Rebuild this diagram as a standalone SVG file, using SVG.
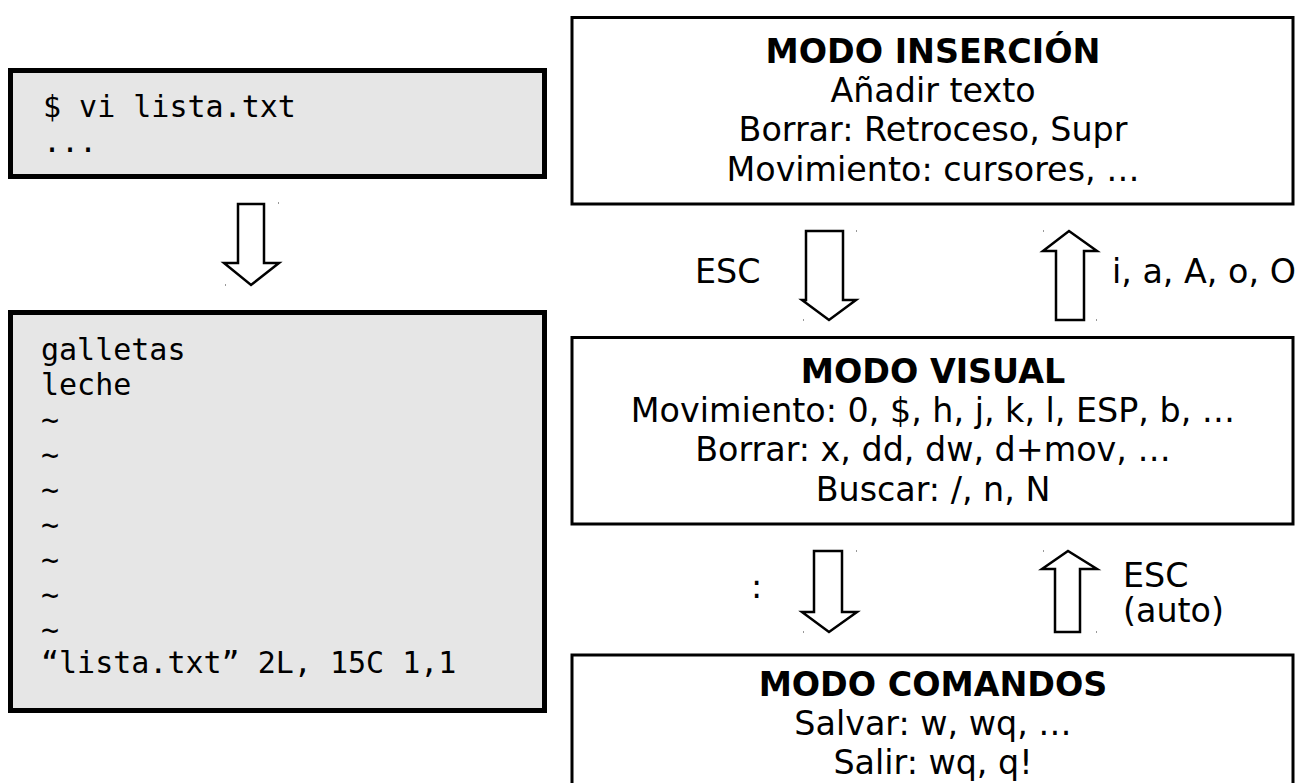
<svg xmlns="http://www.w3.org/2000/svg" width="1298" height="783" viewBox="0 0 1298 783">
<style>
.term{fill:#e6e6e6;stroke:#000;stroke-width:5}
.mode{fill:#fff;stroke:#000;stroke-width:3}
.mono{font-family:"DejaVu Sans Mono","Liberation Mono",monospace;font-size:30px;fill:#000}
.sans{font-family:"DejaVu Sans","Liberation Sans",sans-serif;font-size:33.33px;fill:#000}
.title{font-weight:bold}
.mid{text-anchor:middle}
.arrow{fill:#fff;stroke:#000;stroke-width:2.5;stroke-linejoin:miter}
.tick{fill:#999}
</style>
<rect width="1298" height="783" fill="#fff"/>
<g id="terminal-cmd">
<rect class="term" x="10.5" y="70.5" width="534" height="106"/>
<text class="mono" x="43" y="117">$ vi lista.txt</text>
<text class="mono" x="43" y="152">...</text>
</g>
<g id="terminal-vi">
<rect class="term" x="10.5" y="312.5" width="534" height="398"/>
<text class="mono" x="41" y="360">galletas</text>
<text class="mono" x="41" y="395">leche</text>
<text class="mono" x="41" y="430">~</text>
<text class="mono" x="41" y="465">~</text>
<text class="mono" x="41" y="500">~</text>
<text class="mono" x="41" y="535">~</text>
<text class="mono" x="41" y="570">~</text>
<text class="mono" x="41" y="605">~</text>
<text class="mono" x="41" y="640">~</text>
<text class="mono" x="41" y="673">“lista.txt” 2L, 15C 1,1</text>
</g>
<g id="modo-insercion">
<rect class="mode" x="572" y="17.5" width="721" height="186.5"/>
<text class="sans title mid" x="933" y="63">MODO INSERCIÓN</text>
<text class="sans mid" x="933" y="102">Añadir texto</text>
<text class="sans mid" x="933" y="141">Borrar: Retroceso, Supr</text>
<text class="sans mid" x="933" y="181">Movimiento: cursores, …</text>
</g>
<g id="modo-visual">
<rect class="mode" x="572" y="337.5" width="721" height="186.5"/>
<text class="sans title mid" x="933" y="383">MODO VISUAL</text>
<text class="sans mid" x="933" y="422">Movimiento: 0, $, h, j, k, l, ESP, b, …</text>
<text class="sans mid" x="933" y="461">Borrar: x, dd, dw, d+mov, …</text>
<text class="sans mid" x="933" y="501">Buscar: /, n, N</text>
</g>
<g id="modo-comandos">
<rect class="mode" x="572" y="655" width="721" height="140"/>
<text class="sans title mid" x="933" y="696">MODO COMANDOS</text>
<text class="sans mid" x="933" y="735">Salvar: w, wq, …</text>
<text class="sans mid" x="933" y="774">Salir: wq, q!</text>
</g>
<g id="connectors">
<polygon class="arrow" points="238,204 264,204 264,263 279,263 251,285 224,263 238,263"/>
<rect class="tick" x="278" y="202" width="1" height="2"/>
<rect class="tick" x="225" y="284" width="1" height="2"/>
<polygon class="arrow" points="806,231 843,231 843,300 856,300 829,320 802,300 806,300"/>
<rect class="tick" x="856" y="230" width="1" height="2"/>
<rect class="tick" x="803" y="319" width="1" height="2"/>
<polygon class="arrow" points="1056,320 1084,320 1084,251 1097,251 1069,231 1043,251 1056,251"/>
<rect class="tick" x="1043" y="230" width="1" height="2"/>
<rect class="tick" x="1096" y="319" width="1" height="2"/>
<polygon class="arrow" points="814,551 842,551 842,612 857,612 829,632 802,612 814,612"/>
<rect class="tick" x="856" y="550" width="1" height="2"/>
<rect class="tick" x="803" y="631" width="1" height="2"/>
<polygon class="arrow" points="1055,632 1080,632 1080,569 1097,569 1068,551 1042,569 1055,569"/>
<rect class="tick" x="1043" y="550" width="1" height="2"/>
<rect class="tick" x="1096" y="631" width="1" height="2"/>
<text class="sans" x="695" y="283">ESC</text>
<text class="sans" x="1112" y="283">i, a, A, o, O</text>
<text class="sans" x="751" y="598">:</text>
<text class="sans" x="1123" y="587">ESC</text>
<text class="sans" x="1123" y="622">(auto)</text>
</g>
</svg>
